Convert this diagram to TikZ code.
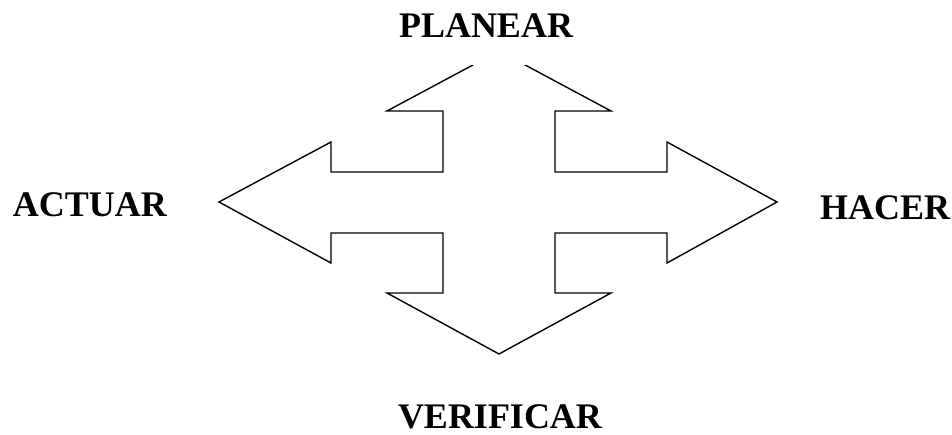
\documentclass[tikz,border=0pt]{standalone}
\usepackage{fontspec}
\setmainfont{Liberation Serif}
\usetikzlibrary{positioning}

\begin{document}
\begin{tikzpicture}[
    x=1pt, y=-1pt,
    cruz/.style={draw=black, line width=1.4pt, line join=miter},
    etiqueta/.style={font=\fontsize{36}{40}\selectfont\bfseries, anchor=base, inner sep=0pt},
]
\useasboundingbox (0,0) rectangle (952,435);

% flecha en cruz
\draw[cruz] (499,51) -- (611,111) -- (555,111) -- (555,172) -- (667,172) -- (667,142)
    -- (777,202) -- (667,263) -- (667,233) -- (555,233) -- (555,293) -- (611,293)
    -- (499,354) -- (387,293) -- (443,293) -- (443,233) -- (331,233) -- (331,263)
    -- (219,202) -- (331,142) -- (331,172) -- (443,172) -- (443,111) -- (387,111) -- cycle;

% etiquetas
\node[etiqueta, fill=white, text depth=27pt, inner xsep=8pt] (planear) at (486,38) {PLANEAR};
\node[etiqueta] (actuar) at (90,217) {ACTUAR};
\node[etiqueta] (hacer) at (885,220) {HACER};
\node[etiqueta] (verificar) at (500,428) {VERIFICAR};

\end{tikzpicture}
\end{document}
